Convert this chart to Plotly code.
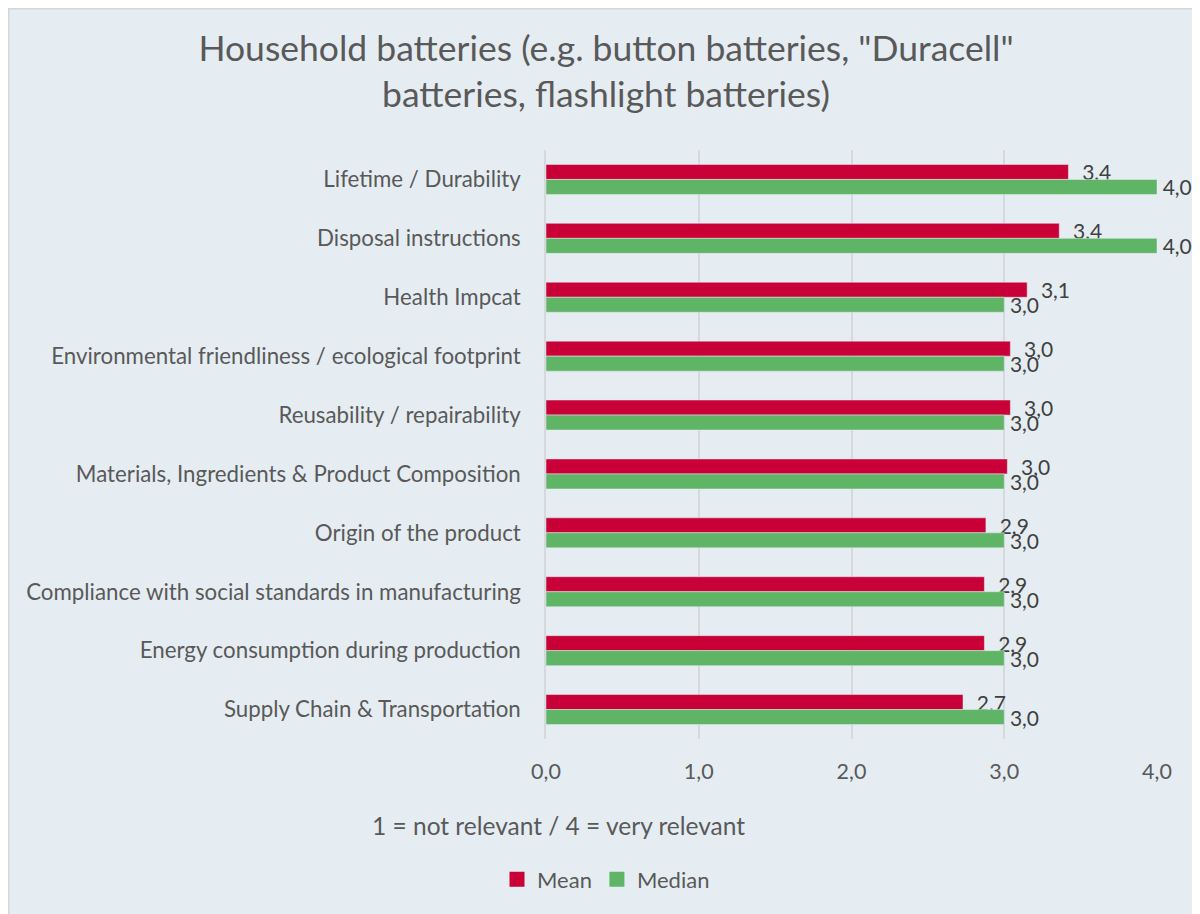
import plotly.graph_objects as go

categories = [
    "Lifetime / Durability",
    "Disposal instructions",
    "Health Impcat",
    "Environmental friendliness / ecological footprint",
    "Reusability / repairability",
    "Materials, Ingredients & Product Composition",
    "Origin of the product",
    "Compliance with social standards in manufacturing",
    "Energy consumption during production",
    "Supply Chain & Transportation",
]
mean_values = [3.42, 3.36, 3.15, 3.04, 3.04, 3.02, 2.88, 2.87, 2.87, 2.73]
median_values = [4.0, 4.0, 3.0, 3.0, 3.0, 3.0, 3.0, 3.0, 3.0, 3.0]
x_ticks = [0, 1, 2, 3, 4]

BG = "#e5edf3"
TXT = "#595959"
LBL = "#404040"
FONT = "Lato"
RED = "#c80037"
GREEN = "#5fb565"

OFF = 8  # page body margin offset

fig = go.Figure()
fig.add_trace(go.Bar(
    y=categories, x=mean_values, name="Mean", orientation="h",
    marker=dict(color=RED), showlegend=False,
    texttemplate="\u00a0\u00a0%{x:.1f}", textposition="outside",
    constraintext="none",
    textfont=dict(size=21, color=LBL, family=FONT),
    cliponaxis=False,
))
fig.add_trace(go.Bar(
    y=categories, x=median_values, name="Median", orientation="h",
    marker=dict(color=GREEN), showlegend=False,
    texttemplate="\u2009%{x:.1f}", textposition="outside",
    constraintext="none",
    textfont=dict(size=21, color=LBL, family=FONT),
    cliponaxis=False,
))
# legend entries
for nm, col in (("Mean", RED), ("Median", GREEN)):
    fig.add_trace(go.Scatter(
        x=[None], y=[None], mode="markers", name=nm,
        marker=dict(symbol="square", size=15, color=col),
    ))

W, H = 1200, 914
L, R, T = 546 - OFF, 1200 - 1157 + OFF, 150 - OFF
B = H - (739.5 - OFF)
pw, ph = W - L - R, H - T - B

def px_x(p):
    return (p - OFF - L) / pw

def px_y(p):
    return (H - B - (p - OFF)) / ph

fig.add_shape(type="rect", xref="paper", yref="paper",
              x0=px_x(8.75), x1=px_x(1220), y0=px_y(940), y1=px_y(8.75),
              fillcolor=BG, line=dict(color="#d6d6d6", width=1.5), layer="below")

fig.update_layout(
    width=W, height=H,
    margin=dict(l=L, r=R, t=T, b=B),
    paper_bgcolor="white",
    plot_bgcolor="rgba(0,0,0,0)",
    separators=",.",
    barmode="group",
    bargap=0.49,
    bargroupgap=0,
    font=dict(family=FONT, color=TXT, size=20),
    title=dict(
        text='Household batteries (e.g. button batteries, "Duracell"<br>batteries, flashlight batteries)',
        x=px_x(606), xref="paper", xanchor="center",
        y=1 - 53 / H, yanchor="middle",
        font=dict(size=35.5, color=TXT, family=FONT),
    ),
    xaxis=dict(
        range=[0, 4], tickvals=x_ticks, tickformat=".1f",
        showgrid=True, gridcolor="#d5d9dc", gridwidth=1.5,
        zeroline=False, showline=False, ticks="",
        tickfont=dict(size=21.5, color=TXT, family=FONT),
        ticklabelstandoff=17,
    ),
    yaxis=dict(
        autorange="reversed", showgrid=False,
        showline=True, linecolor="#d5d9dc", linewidth=1.5,
        ticks="", ticklabelstandoff=19,
        tickfont=dict(size=22.3, color=TXT, family=FONT),
    ),
    legend=dict(
        orientation="h", x=px_x(606), xanchor="center",
        y=px_y(880), yanchor="middle",
        font=dict(size=22, color=TXT, family=FONT),
        bgcolor="rgba(0,0,0,0)", itemwidth=30, traceorder="normal",
    ),
    annotations=[dict(
        text="1 = not relevant / 4 = very relevant",
        xref="paper", yref="paper", x=px_x(558), y=px_y(826),
        xanchor="center", yanchor="middle", showarrow=False,
        font=dict(size=24.5, color=TXT, family=FONT),
    )],
)

fig.write_html("out.html")
